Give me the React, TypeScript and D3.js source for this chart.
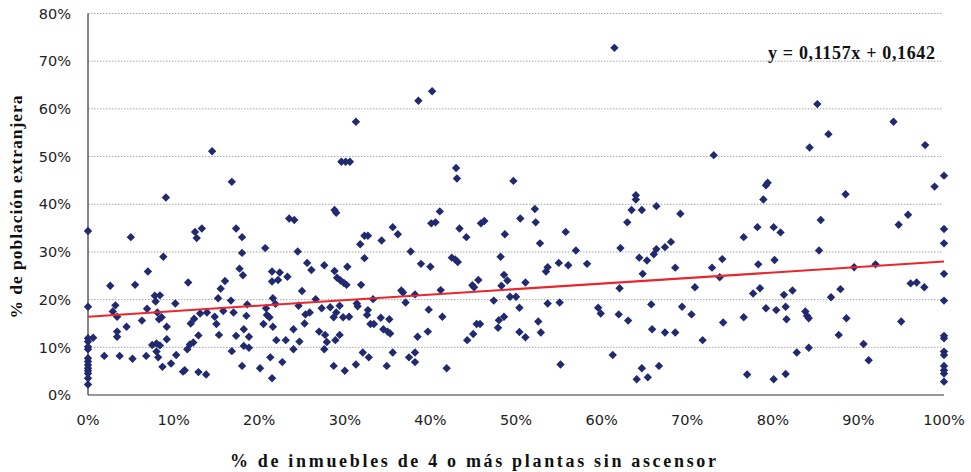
import React from 'react';
import * as d3 from 'd3';

// x: % de inmuebles de 4 o más plantas sin ascensor, y: % de población extranjera (both in %)
const pointX: number[] = [
  0, 9.1, 5.0, 8.8, 7.0, 2.6, 5.5, 7.8, 8.4, 7.9, 0, 3.2, 2.9, 3.4, 6.9, 8.1, 8.6, 8.3, 10.2, 6.3, 4.5, 9.2, 3.4, 3.4, 0.6, 9.2,
  0, 0, 0, 0, 0, 0, 0, 0, 0, 0, 0, 0,
  7.5, 8.0, 8.4, 8.0, 8.2, 1.9, 3.7, 5.2, 6.8, 8.7, 9.7, 10.3,
  14.5, 16.8, 12.5, 13.3, 12.7, 17.3, 18.0, 18.0, 20.7, 17.7, 18.1, 11.7, 16.0, 15.5, 15.2, 16.7, 18.6, 13.1, 13.9, 15.8,
  17.0, 14.8, 18.5, 12.4, 12.0, 15.0, 20.5, 18.2, 12.9, 15.3, 17.3, 18.8, 12.3, 11.9, 11.6, 16.8, 18.2, 18.8, 11.3, 11.1,
  12.9, 13.8, 18.0, 20.1,
  29.6, 30.1, 30.6, 28.8, 29.0, 23.5, 24.1, 24.5, 25.6, 26.1, 27.6, 28.8, 29.1, 29.5, 29.9, 30.2, 30.3, 21.5, 22.4, 23.3,
  21.5, 22.2, 25.0, 21.6, 21.9, 20.8, 20.9, 21.2, 21.6, 24.6, 26.6, 27.3, 28.3, 29.4, 29.0, 28.7, 25.9, 25.4, 29.8, 30.5,
  25.3, 24.0, 27.0, 27.7, 27.9, 27.6, 28.9, 29.4, 22.0, 23.1, 24.7, 24.0, 21.3, 22.7, 21.5, 28.7, 30.0,
  40.2, 38.6, 31.3, 40.1, 40.6, 35.6, 36.2, 32.3, 32.7, 31.8, 34.3, 37.7, 32.3, 38.9, 40.0, 31.9, 36.6, 36.8, 38.2, 33.3,
  37.1, 31.4, 31.5, 32.7, 32.6, 39.8, 34.2, 35.2, 33.0, 33.4, 34.5, 35.0, 35.3, 38.5, 39.7, 32.1, 32.8, 35.6, 37.5, 38.2,
  38.2, 31.3, 34.9,
  43.0, 43.1, 49.7, 41.1, 43.4, 44.2, 45.9, 46.3, 48.7, 50.5, 42.5, 42.9, 43.2, 48.2, 48.6, 49.0, 48.3, 45.6, 44.9, 45.1,
  41.2, 49.3, 50.0, 47.4, 50.4, 41.4, 48.0, 48.6, 47.9, 45.4, 45.8, 45.0, 44.3, 50.4, 41.9,
  52.2, 52.3, 55.8, 52.8, 57.0, 55.0, 56.1, 58.3, 53.7, 53.5, 51.1, 53.7, 55.1, 59.6, 59.9, 52.6, 52.9, 51.1, 55.2,
  61.5, 64.0, 64.0, 63.5, 64.7, 66.4, 69.2, 63.0, 62.2, 64.4, 65.3, 66.1, 66.4, 67.4, 68.1, 68.6, 64.8, 62.1, 70.9, 62.0,
  63.1, 65.8, 69.4, 70.5, 65.9, 67.4, 68.6, 61.3, 64.7, 66.7, 64.1, 65.4,
  73.1, 79.2, 79.4, 78.9, 76.6, 78.2, 80.1, 74.1, 72.9, 78.3, 80.2, 73.8, 78.5, 77.7, 79.2, 80.4, 74.2, 76.6, 71.8, 77.0,
  80.1,
  85.2, 86.5, 84.3, 88.5, 85.6, 80.9, 85.4, 89.5, 81.3, 82.3, 86.8, 87.9, 81.5, 81.6, 83.8, 84.0, 84.2, 88.6, 87.7, 90.6,
  84.2, 82.8, 81.5,
  94.1, 97.8, 100, 98.9, 94.7, 95.8, 100, 100, 92.0, 96.1, 96.8, 97.7, 100, 100, 95.0, 91.2,
  100, 100, 100, 100, 100, 100, 100, 100,
];

const pointY: number[] = [
  34.4, 41.4, 33.1, 29.0, 25.9, 22.9, 23.1, 20.8, 20.9, 19.6, 18.5, 18.8, 17.5, 16.4, 18.1, 17.3, 16.3, 15.9, 19.2, 15.6, 14.3, 14.3, 13.3, 12.2, 12.0, 11.7,
  11.9, 11.2, 10.1, 9.6, 7.7, 7.0, 6.3, 5.6, 5.1, 4.5, 3.5, 2.2,
  10.5, 10.8, 10.4, 9.1, 7.9, 8.2, 8.2, 7.6, 8.2, 5.9, 6.6, 8.4,
  51.1, 44.7, 34.2, 34.9, 32.9, 34.9, 33.1, 29.8, 30.8, 26.5, 25.1, 23.6, 23.9, 22.3, 20.3, 19.8, 19.0, 17.1, 17.3, 17.6,
  17.3, 16.4, 16.6, 16.0, 15.0, 14.9, 14.9, 13.8, 12.5, 12.6, 12.4, 12.2, 11.0, 10.6, 9.6, 9.2, 10.3, 9.9, 5.2, 4.9,
  4.8, 4.3, 6.1, 5.6,
  48.9, 48.9, 48.9, 38.8, 38.2, 37.0, 36.7, 30.1, 27.7, 26.2, 27.2, 26.0, 24.6, 24.0, 23.5, 23.1, 26.9, 25.9, 25.7, 24.8,
  23.8, 24.1, 21.8, 20.3, 19.1, 18.2, 16.8, 16.3, 14.3, 18.7, 20.1, 18.2, 18.4, 18.7, 17.3, 16.3, 17.3, 16.9, 16.3, 16.4,
  15.0, 13.8, 13.3, 12.6, 11.1, 9.6, 11.5, 12.6, 11.5, 11.5, 11.2, 9.6, 7.9, 6.9, 3.5, 6.1, 5.1,
  63.7, 61.7, 57.3, 36.0, 36.2, 35.2, 33.7, 33.4, 33.4, 31.6, 32.4, 30.1, 28.7, 27.5, 26.9, 23.1, 21.9, 21.5, 21.1, 20.1,
  19.4, 19.2, 18.6, 17.8, 16.8, 17.9, 16.2, 15.9, 14.9, 14.9, 13.8, 13.3, 12.9, 12.2, 13.3, 8.9, 7.9, 8.9, 7.9, 8.9,
  6.9, 6.4, 6.1,
  47.6, 45.4, 44.9, 38.5, 34.9, 33.1, 36.0, 36.5, 33.7, 37.0, 28.8, 28.4, 27.9, 29.0, 25.2, 24.0, 22.9, 24.1, 23.0, 22.6,
  22.0, 20.6, 20.6, 19.8, 18.3, 16.4, 15.7, 16.4, 14.1, 14.9, 14.9, 12.8, 11.5, 13.2, 5.6,
  39.0, 36.2, 34.2, 31.8, 30.3, 27.7, 27.2, 27.5, 26.8, 25.9, 23.6, 19.2, 19.4, 18.3, 17.1, 15.4, 13.1, 12.1, 6.4,
  72.8, 41.9, 41.0, 38.8, 38.8, 39.6, 38.0, 36.2, 30.8, 28.8, 28.2, 29.5, 30.6, 31.0, 32.1, 26.7, 25.4, 22.4, 22.6, 16.9,
  15.6, 19.0, 18.5, 16.9, 13.8, 13.1, 13.1, 8.4, 5.6, 6.1, 3.3, 3.7,
  50.3, 44.0, 44.5, 41.0, 33.1, 35.2, 35.2, 28.5, 26.7, 27.4, 28.3, 24.7, 22.4, 21.3, 18.2, 17.8, 15.2, 16.3, 11.5, 4.3,
  3.3,
  61.0, 54.7, 51.9, 42.1, 36.7, 34.1, 30.3, 26.8, 21.0, 21.9, 20.5, 22.2, 18.5, 15.9, 17.5, 16.6, 16.1, 16.1, 12.6, 10.7,
  9.9, 8.9, 4.4,
  57.3, 52.4, 46.0, 43.7, 35.7, 37.8, 34.8, 31.8, 27.4, 23.4, 23.6, 22.6, 25.4, 19.8, 15.4, 7.3,
  12.4, 11.9, 9.1, 8.4, 6.1, 5.2, 4.5, 2.8,
];

const xTicks = [0, 10, 20, 30, 40, 50, 60, 70, 80, 90, 100];
const yTicks = [0, 10, 20, 30, 40, 50, 60, 70, 80];

const trendSlope = 0.1157;
const trendIntercept = 0.1642;
const equationLabel = 'y = 0,1157x + 0,1642';
const xTitle = '% de inmuebles de 4 o más plantas sin ascensor';
const yTitle = '% de población extranjera';

const WIDTH = 971;
const HEIGHT = 472;
const margin = { top: 13.5, right: 27, bottom: 77, left: 88 };

const MARKER = '#212a6e';
const TREND = '#e8262c';

const App: React.FC = () => {
  const innerW = WIDTH - margin.left - margin.right;
  const innerH = HEIGHT - margin.top - margin.bottom;

  const x = d3.scaleLinear().domain([0, 100]).range([0, innerW]);
  const y = d3.scaleLinear().domain([0, 80]).range([innerH, 0]);

  const points = pointX.map((px, i) => ({ px, py: pointY[i] }));
  const diamond = 'M0,-4.2L4.2,0L0,4.2L-4.2,0Z';

  const trend = d3.line<number>()
    .x(d => x(d))
    .y(d => y((trendSlope * d / 100 + trendIntercept) * 100));

  return (
    <div style={{ position: 'absolute', left: 0, top: 0 }}>
      <svg width={WIDTH} height={HEIGHT} style={{ display: 'block', background: '#fff' }}>
        <g transform={`translate(${margin.left},${margin.top})`}>
          {yTicks.filter(t => t > 0).map(t => (
            <line key={t} x1={0} x2={innerW - 1} y1={y(t)} y2={y(t)}
              stroke="#a6a6a6" strokeWidth={1} strokeDasharray="1.5,1.5" />
          ))}
          <line x1={0} x2={0} y1={0} y2={innerH} stroke="#333" strokeWidth={1.2} />
          <line x1={0} x2={innerW} y1={innerH} y2={innerH} stroke="#333" strokeWidth={1.2} />

          {yTicks.map(t => (
            <text key={t} x={-17} y={y(t)} dy="0.36em" textAnchor="end"
              fontFamily="DejaVu Sans" fontSize={14.5} fill="#222">{t}%</text>
          ))}
          {xTicks.map(t => (
            <text key={t} x={x(t)} y={innerH + 30} textAnchor="middle"
              fontFamily="DejaVu Sans" fontSize={14.5} fill="#222">{t}%</text>
          ))}

          {points.map((d, i) => (
            <path key={i} d={diamond} transform={`translate(${x(d.px)},${y(d.py)})`} fill={MARKER} />
          ))}

          <path d={trend([0, 100]) || ''} fill="none" stroke={TREND} strokeWidth={2} />

          <text x={680} y={45} fontFamily="Liberation Serif" fontWeight="bold" fontSize={18}
            textLength={167} lengthAdjust="spacing" fill="#111">{equationLabel}</text>
        </g>

        <text x={473} y={467} textAnchor="middle" fontFamily="Liberation Serif" fontWeight="bold"
          fontSize={18} textLength={486} lengthAdjust="spacing" fill="#111">{xTitle}</text>
        <text transform={`translate(22,207) rotate(-90)`} textAnchor="middle" fontFamily="Liberation Serif"
          fontWeight="bold" fontSize={17.5} textLength={223} lengthAdjust="spacing" fill="#111">{yTitle}</text>
      </svg>
    </div>
  );
};

export default App;
